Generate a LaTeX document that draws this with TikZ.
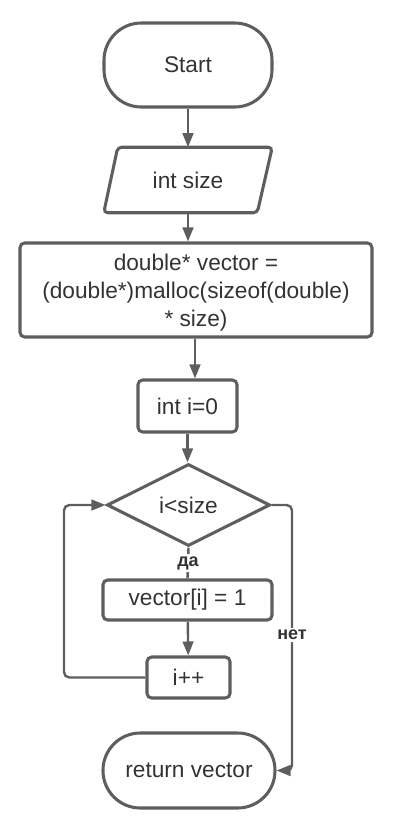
\documentclass[tikz,border=0pt]{standalone}
\usepackage{fontspec}
\setmainfont{Liberation Sans}
\usetikzlibrary{shapes.geometric,arrows.meta,calc}
\definecolor{ln}{HTML}{5E5E5E}
\definecolor{tx}{HTML}{333333}
\begin{document}
\begin{tikzpicture}[x=0.75pt,y=-0.75pt,
  base/.style={draw=ln,line width=2.3pt,text=tx,font=\fontsize{17}{21}\selectfont,inner sep=2pt,align=center},
  term/.style={base,rectangle,rounded corners=28pt},
  proc/.style={base,rectangle,rounded corners=3.5pt},
  io/.style={rectangle,text=tx,font=\fontsize{17}{21}\selectfont,inner sep=0pt},
  dec/.style={base,diamond,aspect=2,inner sep=0pt},
  conn/.style={draw=ln,line width=1.8pt,-{Triangle[length=10.5pt,width=8pt]}},
  plain/.style={draw=ln,line width=1.8pt},
  lbl/.style={fill=white,text=tx,font=\fontsize{13.5}{15}\selectfont\bfseries,inner sep=1.5pt}]
\useasboundingbox (0,0) rectangle (406,817);
\node[term,minimum width=126pt,minimum height=63pt] (start) at (188,65) {Start};
\node[io,minimum width=126pt,minimum height=48.75pt] (input) at (188,180) {int size};
\draw[draw=ln,line width=2.3pt,rounded corners=3pt] (input.south west) -- ($(input.north west)+(14,0)$) -- (input.north east) -- ($(input.south east)+(-15,0)$) -- cycle;
\node[proc,minimum width=264pt,minimum height=70.5pt,text depth=0pt] (alloc) at (196,290) {double* vector =\\(double*)malloc(sizeof(double)\\* size)};
\node[proc,minimum width=74.25pt,minimum height=39pt] (init) at (187.5,406) {int i=0};
\node[dec,minimum width=122.25pt,minimum height=61.5pt] (cond) at (188.5,505) {i<size};
\node[proc,minimum width=126.75pt,minimum height=30pt] (body) at (187.5,600) {vector[i] = 1};
\node[proc,minimum width=62.25pt,minimum height=30.75pt] (inc) at (188.5,677.5) {i++};
\node[term,minimum width=129pt,minimum height=56.25pt] (ret) at (189,770.5) {return vector};
\coordinate (lx) at (64,0);
\coordinate (rx) at (292,0);
\draw[conn] (start) -- (input);
\draw[conn] (input.south) -- (input.south |- alloc.north);
\draw[conn] ($(alloc.south)+(-1,0)$) -- ($(alloc.south |- init.north)+(-1,0)$);
\draw[conn] (init.south) -- (init.south |- cond.north);
\draw[plain] (cond.south) -- node[lbl,pos=0.5] {да} (body.north);
\draw[conn] (body) -- (inc);
\draw[conn,rounded corners=4pt] (inc.west) -- (inc.west -| lx) -- (lx |- cond.west) -- (cond.west);
\draw[conn,rounded corners=4pt] (cond.east) -- (cond.east -| rx) -- node[lbl,pos=0.49] {нет} (rx |- ret.east) -- (ret.east);
\end{tikzpicture}
\end{document}
